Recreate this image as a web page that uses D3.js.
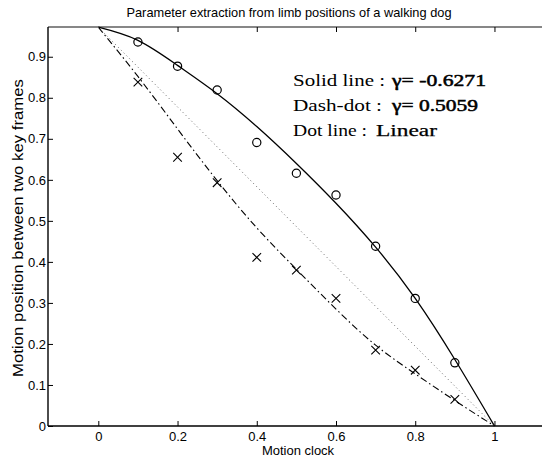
<!DOCTYPE html>
<html><head><meta charset="utf-8">
<script src="https://cdn.jsdelivr.net/npm/d3@7"></script>
<style>
body{margin:0;background:#fff;}
svg{display:block;}
</style></head>
<body><svg id="chart" width="542" height="463"></svg>
<script>
// ---- data ----
const title = "Parameter extraction from limb positions of a walking dog";
const xLabel = "Motion clock";
const yLabel = "Motion position between two key frames";
const xTicks = [0, 0.2, 0.4, 0.6, 0.8, 1];
const yTicks = [0, 0.1, 0.2, 0.3, 0.4, 0.5, 0.6, 0.7, 0.8, 0.9];

const sampleX = [0.1, 0.2, 0.3, 0.4, 0.5, 0.6, 0.7, 0.8, 0.9];
const circleY = [0.936, 0.877, 0.819, 0.691, 0.616, 0.563, 0.438, 0.311, 0.154];
const crossY  = [0.838, 0.655, 0.593, 0.411, 0.380, 0.311, 0.185, 0.136, 0.065];

const curveX      = [0, 0.1, 0.2, 0.3, 0.4, 0.5, 0.6, 0.7, 0.8, 0.9, 1];
const solidY      = [0.972, 0.940, 0.879, 0.810, 0.730, 0.640, 0.543, 0.436, 0.311, 0.162, 0];
const dashDotY    = [0.972, 0.852, 0.724, 0.598, 0.483, 0.382, 0.285, 0.197, 0.127, 0.062, 0];
const linearX     = [0, 1];
const linearY     = [0.972, 0];

const legendLabels = ["Solid line :", "Dash-dot :", "Dot line :"];
const legendValues = ["\u03b3= -0.6271", "\u03b3= 0.5059", "Linear"];

// ---- drawing ----
(function () {
const svg = d3.select("#chart");
const pLeft = 48, pRight = 542, pTop = 27, pBottom = 426;
const x = d3.scaleLinear().domain([-0.127, 1.12]).range([pLeft, pRight]);
const y = d3.scaleLinear().domain([0, 0.9725]).range([pBottom, pTop]);

const sans = "'Liberation Sans', Arial, Helvetica, sans-serif";
const serif = "'Liberation Serif', 'Times New Roman', serif";

// title
svg.append("text").attr("x", 289).attr("y", 17).attr("text-anchor", "middle")
  .attr("font-family", sans).attr("font-size", 12.8).attr("fill", "#000").text(title);

// frame lines
svg.append("line").attr("x1", pLeft).attr("x2", pRight).attr("y1", pTop).attr("y2", pTop)
  .attr("stroke", "#111").attr("stroke-width", 1.2);
svg.append("line").attr("x1", pLeft).attr("x2", pLeft).attr("y1", pTop).attr("y2", pBottom)
  .attr("stroke", "#000").attr("stroke-width", 1.4);

// bottom axis
const gx = svg.append("g").attr("transform", `translate(0,${pBottom})`)
  .call(d3.axisBottom(x).tickValues(xTicks).tickSize(-5).tickPadding(5.5)
        .tickFormat(d => d3.format("")(d)));
gx.select(".domain").remove();
gx.append("line").attr("x1", pLeft).attr("x2", pRight).attr("stroke", "#000").attr("stroke-width", 1.4);
gx.selectAll("text").attr("font-family", sans).attr("font-size", 13).attr("fill", "#000");
gx.selectAll(".tick line").attr("stroke", "#000");

// top ticks
const gt = svg.append("g").attr("transform", `translate(0,${pTop})`)
  .call(d3.axisTop(x).tickValues(xTicks.slice(1)).tickSize(-5).tickFormat(""));
gt.select(".domain").remove();
gt.selectAll(".tick line").attr("stroke", "#000");

// left axis
const gy = svg.append("g").attr("transform", `translate(${pLeft},0)`)
  .call(d3.axisLeft(y).tickValues(yTicks).tickSize(-5).tickPadding(2)
        .tickFormat(d => d3.format("")(+d.toFixed(1))));
gy.select(".domain").remove();
gy.selectAll("text").attr("font-family", sans).attr("font-size", 13).attr("fill", "#000");
gy.selectAll(".tick line").attr("stroke", "#000");

// axis labels
svg.append("text").attr("x", 298).attr("y", 455).attr("text-anchor", "middle")
  .attr("font-family", sans).attr("font-size", 13).attr("fill", "#000").text(xLabel);
svg.append("text").attr("transform", `translate(23,228) rotate(-90)`).attr("text-anchor", "middle")
  .attr("font-family", sans).attr("font-size", 14.5).attr("fill", "#000")
  .attr("textLength", 298).attr("lengthAdjust", "spacingAndGlyphs").text(yLabel);

// curves
const line = d3.line().x(d => x(d[0])).y(d => y(d[1])).curve(d3.curveNatural);
svg.append("path").datum(d3.zip(curveX, solidY)).attr("d", line)
  .attr("fill", "none").attr("stroke", "#000").attr("stroke-width", 1.3);
svg.append("path").datum(d3.zip(curveX, dashDotY)).attr("d", line)
  .attr("fill", "none").attr("stroke", "#000").attr("stroke-width", 1.1)
  .attr("stroke-dasharray", "7,3,1.5,3");
svg.append("path").datum(d3.zip(linearX, linearY)).attr("d", d3.line().x(d => x(d[0])).y(d => y(d[1])))
  .attr("fill", "none").attr("stroke", "#666").attr("stroke-width", 1)
  .attr("stroke-dasharray", "1,3");

// markers
svg.append("g").selectAll("circle").data(d3.zip(sampleX, circleY)).join("circle")
  .attr("cx", d => x(d[0])).attr("cy", d => y(d[1])).attr("r", 4.1)
  .attr("fill", "none").attr("stroke", "#000").attr("stroke-width", 1.2);
const s = 4.3;
svg.append("g").selectAll("path").data(d3.zip(sampleX, crossY)).join("path")
  .attr("d", d => {
    const cx = x(d[0]), cy = y(d[1]);
    return `M${cx-s},${cy-s}L${cx+s},${cy+s}M${cx-s},${cy+s}L${cx+s},${cy-s}`;
  })
  .attr("fill", "none").attr("stroke", "#000").attr("stroke-width", 1.1);

// legend text
const labelW = [92, 89, 74];
const valueX = [392, 392, 376];
const valueW = [94, 86, 61];
const lg = svg.append("g").attr("font-family", serif).attr("font-size", 16.5).attr("fill", "#000");
legendLabels.forEach((l, i) => {
  const by = 86 + i * 25;
  lg.append("text").attr("x", 293).attr("y", by)
    .attr("textLength", labelW[i]).attr("lengthAdjust", "spacingAndGlyphs").text(l);
  lg.append("text").attr("x", valueX[i]).attr("y", by)
    .attr("stroke", "#000").attr("stroke-width", i < 2 ? 0.5 : 0.25)
    .attr("textLength", valueW[i]).attr("lengthAdjust", "spacingAndGlyphs").text(legendValues[i]);
});
})();
</script></body></html>
